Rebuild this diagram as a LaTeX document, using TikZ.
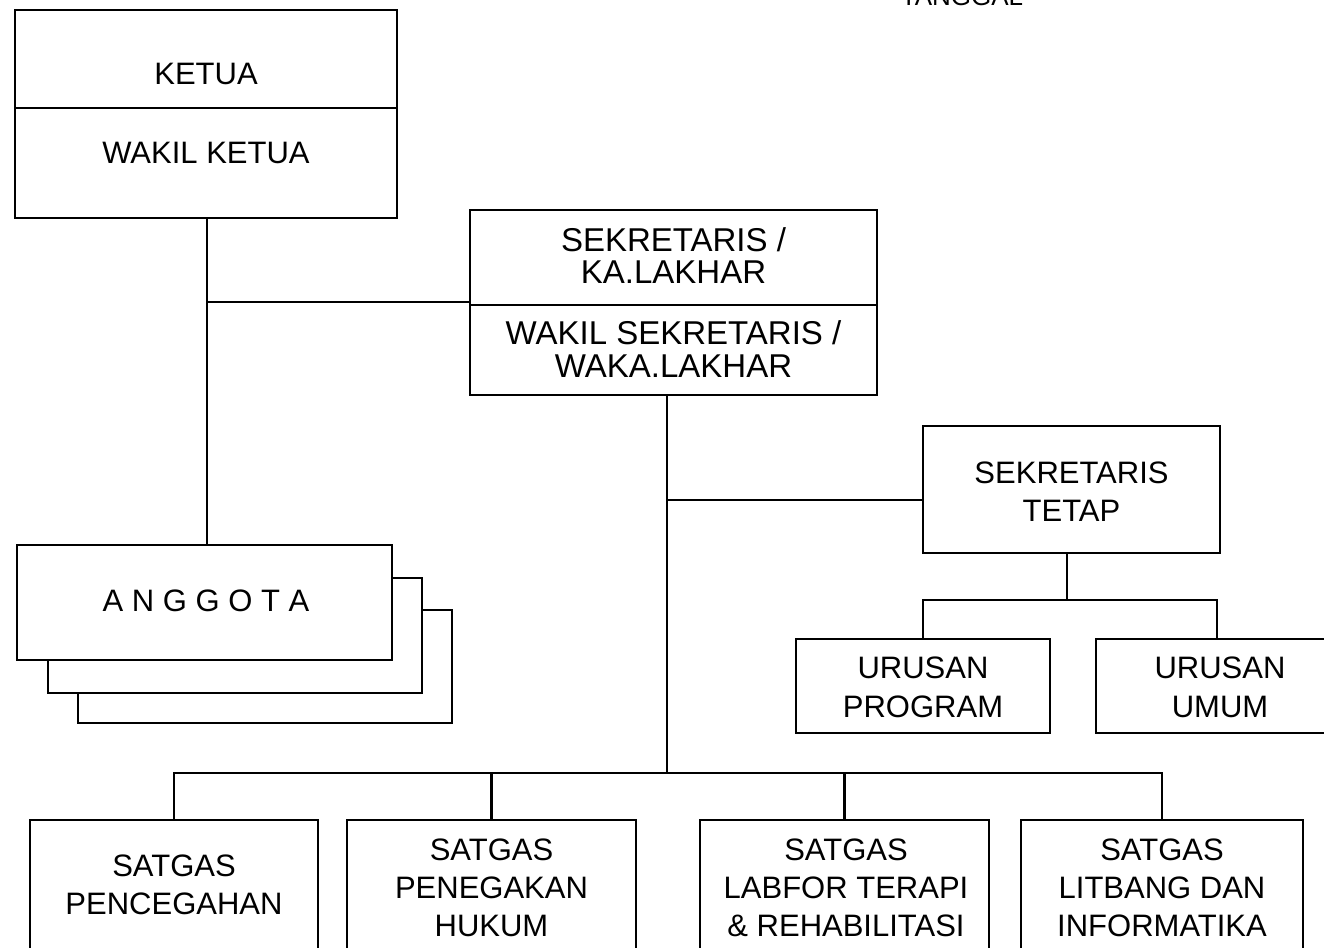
\documentclass[tikz,border=0pt]{standalone}
\usepackage{fontspec}
\setmainfont{Liberation Sans}
\begin{document}
\begin{tikzpicture}[x=1pt,y=-1pt,
  box/.style={draw=black,line width=2.2pt,fill=white,inner sep=0pt},
  lbl/.style={anchor=base,inner sep=0pt,font=\fontsize{31}{31}\selectfont},
  lblb/.style={anchor=base,inner sep=0pt,font=\fontsize{33}{33}\selectfont},
  conn/.style={draw=black,line width=2.2pt}]
\useasboundingbox (0,0) rectangle (1324,947);
% top cut-off label
\node[anchor=base,inner sep=0pt,font=\fontsize{26}{26}\selectfont] (tanggal) at (962,6) {TANGGAL};
% KETUA
\node[box,minimum width=382pt,minimum height=98pt] (ketua) at (206,59) {};
\node[box,minimum width=382pt,minimum height=110pt] (wakil) at (206,163) {};
\node[lbl] (ketuaT) at (206,85) {KETUA};
\node[lbl] (wakilT) at (206,163) {WAKIL KETUA};
% SEKRETARIS
\node[box,minimum width=407pt,minimum height=95pt] (sek) at (673.5,257.5) {};
\node[box,minimum width=407pt,minimum height=90pt] (wsek) at (673.5,350) {};
\node[lblb] (sekT1) at (673.5,251) {SEKRETARIS /};
\node[lblb] (sekT2) at (673.5,283) {KA.LAKHAR};
\node[lblb] (wsekT1) at (673.5,344) {WAKIL SEKRETARIS /};
\node[lblb] (wsekT2) at (673.5,377) {WAKA.LAKHAR};
% ANGGOTA stack
\node[box,minimum width=374pt,minimum height=113pt] (ang3) at (265,666.5) {};
\node[box,minimum width=374pt,minimum height=115pt] (ang2) at (235,635.5) {};
\node[box,minimum width=375pt,minimum height=115pt] (ang) at (204.5,602.5) {};
\node[lbl] (angT) at (206,611) {A N G G O T A};
% SEKRETARIS TETAP
\node[box,minimum width=297pt,minimum height=127pt] (tetap) at (1071.5,489.5) {};
\node[lbl] (tetapT1) at (1071.5,483) {SEKRETARIS};
\node[lbl] (tetapT2) at (1071.5,521) {TETAP};
% URUSAN
\node[box,minimum width=254pt,minimum height=94pt] (prog) at (923,686) {};
\node[lbl] (progT1) at (923,678) {URUSAN};
\node[lbl] (progT2) at (923,717) {PROGRAM};
\node[box,minimum width=254pt,minimum height=94pt] (umum) at (1223,686) {};
\node[lbl] (umumT1) at (1220,678) {URUSAN};
\node[lbl] (umumT2) at (1220,717) {UMUM};
% SATGAS boxes
\node[box,minimum width=288pt,minimum height=150pt] (s1) at (174,895) {};
\node[box,minimum width=289pt,minimum height=150pt] (s2) at (491.5,895) {};
\node[box,minimum width=289pt,minimum height=150pt] (s3) at (844.5,895) {};
\node[box,minimum width=282pt,minimum height=150pt] (s4) at (1162,895) {};
\node[lbl] (s1a) at (174,876) {SATGAS};
\node[lbl] (s1b) at (174,914) {PENCEGAHAN};
\node[lbl] (s2a) at (491.5,860) {SATGAS};
\node[lbl] (s2b) at (491.5,898) {PENEGAKAN};
\node[lbl] (s2c) at (491.5,936) {HUKUM};
\node[lbl] (s3a) at (846,860) {SATGAS};
\node[lbl] (s3b) at (846,898) {LABFOR TERAPI};
\node[lbl] (s3c) at (846,936) {\& REHABILITASI};
\node[lbl] (s4a) at (1162,860) {SATGAS};
\node[lbl] (s4b) at (1162,898) {LITBANG DAN};
\node[lbl] (s4c) at (1162,936) {INFORMATIKA};
% connectors
\coordinate (j1) at (207,302);
\draw[conn] (wakil.south -| j1) -- (ang.north -| j1);
\draw[conn] (j1) -- (j1 -| sek.west);
\coordinate (mainx) at (667,0);
\coordinate (bus) at (667,773);
\coordinate (j2) at (667,500);
\draw[conn] (wsek.south -| mainx) -- (bus);
\draw[conn] (j2) -- (j2 -| tetap.west);
\coordinate (ub) at (1067,600);
\draw[conn] (tetap.south -| ub) -- (ub);
\draw[conn] (prog.north) |- (ub);
\draw[conn] (ub) -| ([xshift=-6pt]umum.north);
\draw[conn] (s1.north) |- (bus);
\draw[conn] (s2.north) |- (bus);
\draw[conn] (bus) -| (s3.north);
\draw[conn] (bus) -| (s4.north);
\end{tikzpicture}
\end{document}
